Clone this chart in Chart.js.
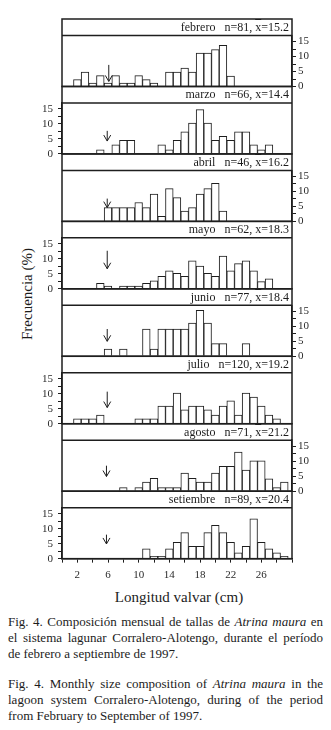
<!DOCTYPE html>
<html>
<head>
<meta charset="utf-8">
<script src="https://cdn.jsdelivr.net/npm/chart.js@4.4.1/dist/chart.umd.min.js"></script>
<style>
  html, body { margin: 0; padding: 0; background: #fff; }
  #fig { position: relative; width: 331px; height: 730px; overflow: hidden;
         font-family: 'Liberation Serif', 'Times New Roman', serif; color: #1c1c1c; }
  #fig canvas { position: absolute; left: 0; }
  .head { position: absolute; left: 62px; width: 227px; text-align: right; font-size: 12px; white-space: pre; }
  .xbar { text-decoration: overline; }
  #ylab { position: absolute; left: 27px; top: 294px; transform: translate(-50%, -50%) rotate(-90deg);
          font-size: 15px; white-space: nowrap; }
  #xlab { position: absolute; left: 179px; top: 597px; transform: translate(-50%, -50%);
          font-size: 15px; white-space: nowrap; }
  .cap { position: absolute; left: 8px; width: 315px; font-size: 13px; line-height: 16px; }
  .cap .j { text-align: justify; text-align-last: justify; }
</style>
</head>
<body>
<div id="fig">
  <div id="ylab">Frecuencia (%)</div>
  <div id="xlab">Longitud valvar (cm)</div>
  <div class="cap" style="top:614px">
    <div class="j">Fig. 4. Composición mensual de tallas de <i>Atrina maura</i> en</div>
    <div class="j">el sistema lagunar Corralero-Alotengo, durante el período</div>
    <div>de febrero a septiembre de 1997.</div>
  </div>
  <div class="cap" style="top:676px">
    <div class="j">Fig. 4. Monthly size composition of <i>Atrina maura</i> in the</div>
    <div class="j">lagoon system Corralero-Alotengo, during of the period</div>
    <div>from February to September of 1997.</div>
  </div>
</div>
<script>
// size classes (cm), one bar per class
const sizeBins = [1, 2, 3, 4, 5, 6, 7, 8, 9, 10, 11, 12, 13, 14, 15, 16, 17, 18, 19, 20, 21, 22, 23, 24, 25, 26, 27, 28, 29];

// frequency (%) per size class
const febrero   = [0, 2.3, 4.8, 1.1, 3.6, 1.1, 3.6, 1.1, 1.1, 3.6, 2.3, 1.1, 0, 4.8, 4.8, 6.1, 4.8, 11.1, 11.1, 12.3, 13.7, 3.5, 0, 0, 0, 0, 0, 0, 0];
const marzo     = [0, 0, 0, 0, 1.4, 0, 3.0, 4.5, 4.5, 0, 0, 0, 3.0, 1.4, 4.5, 7.4, 10.3, 14.8, 10.3, 4.5, 5.9, 4.5, 7.4, 7.4, 3.0, 1.4, 3.0, 0, 0];
const abril     = [0, 0, 0, 0, 0, 4.6, 4.6, 4.6, 4.6, 6.3, 4.6, 9.1, 1.7, 10.9, 7.9, 3.4, 4.6, 9.1, 10.9, 12.7, 3.4, 0, 0, 0, 0, 0, 0, 0, 0];
const mayo      = [0, 0, 0, 0, 1.8, 0.9, 0, 0.9, 0.9, 0.9, 1.8, 2.7, 4.2, 6.0, 5.2, 4.2, 9.3, 7.6, 5.2, 4.2, 10.9, 6.0, 8.4, 9.3, 6.0, 2.4, 3.3, 0, 0];
const junio     = [0, 0, 0, 0, 0, 2.4, 0, 2.4, 0, 0, 9.1, 2.4, 9.1, 9.1, 9.1, 9.1, 11.1, 15.3, 11.1, 4.2, 4.2, 0, 0, 4.2, 0, 0, 0, 0, 0];
const julio     = [0, 1.6, 1.6, 1.6, 2.9, 0, 0, 0, 0, 1.6, 1.6, 1.6, 5.9, 5.9, 10.2, 4.6, 5.9, 5.9, 4.6, 2.9, 5.9, 7.6, 2.9, 10.2, 8.9, 5.9, 2.9, 1.6, 0];
const agosto    = [0, 0, 0, 0, 0, 0, 0, 1.2, 0, 1.2, 3.0, 4.3, 1.2, 1.2, 1.2, 6.0, 4.3, 3.0, 3.0, 6.0, 8.3, 8.3, 13.0, 7.0, 10.1, 10.1, 4.1, 1.2, 3.0];
const setiembre = [0, 0, 0, 0, 0, 0, 0, 0, 0, 0, 3.3, 0.8, 0.8, 3.3, 5.4, 8.7, 4.1, 4.1, 8.7, 11.1, 8.7, 5.4, 1.9, 4.1, 13.3, 5.4, 3.3, 1.9, 0.8];

const months = ['febrero', 'marzo', 'abril', 'mayo', 'junio', 'julio', 'agosto', 'setiembre'];
const nValues = [81, 66, 46, 62, 77, 120, 71, 89];
const meanValues = ['15.2', '14.4', '16.2', '18.3', '18.4', '19.2', '21.2', '20.4'];

// arrow per month: size (cm) and the frequency levels it runs between
const arrowSize = [6.1, 5.9, 5.9, 5.9, 5.9, 5.9, 5.8, 5.8];
const arrowFrom = [7.2, 7.7, 7.6, 12.7, 9.1, 10.7, 8.5, 8.0];
const arrowTo   = [1.7, 4.3, 4.6, 6.7, 5.0, 5.4, 4.9, 4.9];

const xTickLabels = [2, 6, 10, 14, 18, 22, 26];
const yTickLabels = [0, 5, 10, 15];

const series = [febrero, marzo, abril, mayo, junio, julio, agosto, setiembre];

// layout of the stacked panels
const TOP0 = 19, STEP = 67.45, HEAD = 16.5, PLOT = 51, PAD = 14;
const LEFT = 62, RIGHT = 292, W = 331;
const ink = '#1e1e1e';
const fig = document.getElementById('fig');

// frame of each panel + header band + the arrow
const panelFrame = {
  id: 'panelFrame',
  afterDatasetsDraw(chart, args, opts) {
    const { ctx, chartArea: a, scales: { x, y } } = chart;
    ctx.save();
    ctx.strokeStyle = ink;
    ctx.lineWidth = 1.5;
    ctx.strokeRect(a.left, a.top - HEAD, a.right - a.left, a.bottom - a.top + HEAD);
    ctx.beginPath();
    ctx.moveTo(a.left, a.top);
    ctx.lineTo(a.right, a.top);
    ctx.stroke();

    const ax = x.getPixelForValue(opts.at);
    const y0 = y.getPixelForValue(opts.from);
    const y1 = y.getPixelForValue(opts.to);
    ctx.lineWidth = 1;
    ctx.beginPath();
    ctx.moveTo(ax, y0);
    ctx.lineTo(ax, y1);
    ctx.moveTo(ax - 3.5, y1 - 6);
    ctx.lineTo(ax, y1);
    ctx.lineTo(ax + 3.5, y1 - 6);
    ctx.stroke();
    ctx.restore();
  }
};

series.forEach((vals, i) => {
  const headTop = TOP0 + STEP * i;
  const plotTop = headTop + HEAD;
  const base = plotTop + PLOT;
  const last = i === series.length - 1;
  const axisLeft = i % 2 === 1; // marzo, mayo, julio, setiembre have the axis on the left

  const cTop = Math.floor(headTop) - 3;
  const cBottom = Math.ceil(base) + (last ? 32 : PAD);
  const h = cBottom - cTop;

  const canvas = document.createElement('canvas');
  canvas.width = W;
  canvas.height = h;
  canvas.style.top = cTop + 'px';
  canvas.style.width = W + 'px';
  canvas.style.height = h + 'px';
  fig.appendChild(canvas);

  // header text
  const head = document.createElement('div');
  head.className = 'head';
  head.style.top = headTop + 'px';
  head.style.height = HEAD + 'px';
  head.style.lineHeight = HEAD + 'px';
  head.innerHTML = `${months[i]}   n=${nValues[i]}, <span class="xbar">x</span>=${meanValues[i]}`;
  fig.appendChild(head);

  new Chart(canvas, {
    type: 'bar',
    data: {
      labels: sizeBins,
      datasets: [{
        data: sizeBins.map((b, k) => ({ x: b, y: vals[k] })),
        backgroundColor: '#fff',
        borderColor: ink,
        borderWidth: 1,
        barPercentage: 1,
        categoryPercentage: 1
      }]
    },
    options: {
      responsive: false,
      animation: false,
      events: [],
      layout: {
        padding: {
          top: plotTop - cTop,
          bottom: last ? 0 : cBottom - base,
          left: axisLeft ? 0 : LEFT,
          right: axisLeft ? W - RIGHT : 0
        }
      },
      plugins: {
        legend: { display: false },
        tooltip: { enabled: false },
        panelFrame: { at: arrowSize[i], from: arrowFrom[i], to: arrowTo[i] }
      },
      scales: {
        x: {
          type: 'linear',
          min: 0,
          max: 30,
          offset: false,
          display: last,
          afterFit: s => { if (last) s.height = cBottom - base; },
          afterBuildTicks: s => {
            s.ticks = [];
            for (let v = 0; v <= 30; v += 2) s.ticks.push({ value: v });
          },
          grid: { drawOnChartArea: false, offset: false, tickLength: 4, color: ink },
          border: { display: true, color: ink, width: 1.5 },
          ticks: {
            autoSkip: false,
            maxRotation: 0,
            padding: 6,
            color: '#2a2a2a',
            font: { family: "'Liberation Serif', serif", size: 11 },
            callback: v => xTickLabels.includes(v) ? String(v) : ''
          }
        },
        y: {
          position: axisLeft ? 'left' : 'right',
          min: 0,
          max: 17,
          afterFit: s => { s.width = axisLeft ? LEFT : W - RIGHT; },
          afterBuildTicks: s => {
            s.ticks = [];
            for (let v = 0; v <= 15; v += 2.5) s.ticks.push({ value: v });
          },
          grid: { drawOnChartArea: false, tickLength: 4, color: ink },
          border: { display: true, color: ink, width: 1.5 },
          ticks: {
            autoSkip: false,
            padding: axisLeft ? 5 : 2,
            color: '#2a2a2a',
            font: { family: "'Liberation Serif', serif", size: 11 },
            callback: v => yTickLabels.includes(v) ? String(v) : ''
          }
        }
      }
    },
    plugins: [panelFrame]
  });
});
</script>
</body>
</html>
